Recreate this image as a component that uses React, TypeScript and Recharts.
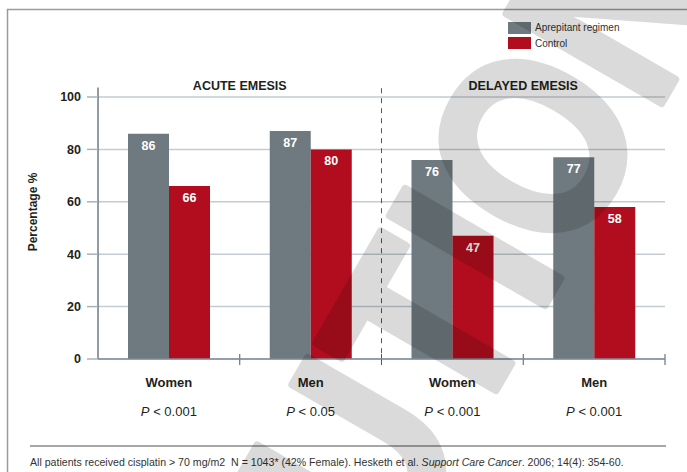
import React from 'react';
import {
  BarChart,
  Bar,
  XAxis,
  YAxis,
  CartesianGrid,
  Legend,
  LabelList,
  ReferenceLine,
} from 'recharts';

// categories and series values
const CATEGORY_IDS = ['acute-women', 'acute-men', 'delayed-women', 'delayed-men'];
const GENDERS = ['Women', 'Men', 'Women', 'Men'];
const P_VALUES = ['0.001', '0.05', '0.001', '0.001'];
const APREPITANT = [86, 87, 76, 77];
const CONTROL = [66, 80, 47, 58];
const Y_TICKS = [0, 20, 40, 60, 80, 100];
const GROUP_TITLES = ['ACUTE EMESIS', 'DELAYED EMESIS'];
const GROUP_SPLIT_AFTER = ['acute-women', 'delayed-women']; // titles sit over the end of these bands

const FONT = '"Liberation Sans", Arial, Helvetica, sans-serif';
const GREY = '#6f7a80';
const RED = '#b20d1e';
const TEXT = '#231f20';
const AXIS = '#4a5a67';

const data = CATEGORY_IDS.map((id, i) => ({
  id,
  gender: GENDERS[i],
  p: P_VALUES[i],
  aprepitant: APREPITANT[i],
  control: CONTROL[i],
}));

const legendItems = [
  { label: 'Aprepitant regimen', color: GREY },
  { label: 'Control', color: RED },
];

// x tick: gender label plus p value beneath it
const CategoryTick = ({ x, y, payload }: any) => {
  const row = data.find((d) => d.id === payload.value) || data[payload.index];
  return (
    <g>
      <text x={x} y={y + 28} textAnchor="middle" fontSize={13} fontWeight="bold" fill={TEXT} fontFamily={FONT}>
        {row.gender}
      </text>
      <text x={x} y={y + 57} textAnchor="middle" fontSize={13} fill={TEXT} fontFamily={FONT}>
        <tspan fontStyle="italic">P</tspan>
        {' < ' + row.p}
      </text>
    </g>
  );
};

const LegendBox = () => (
  <div style={{ fontFamily: FONT, fontSize: 10, color: '#333' }}>
    {legendItems.map((item) => (
      <div key={item.label} style={{ display: 'flex', alignItems: 'center', height: 15.5 }}>
        <span style={{ display: 'inline-block', width: 23, height: 12, background: item.color, marginRight: 4 }} />
        <span>{item.label}</span>
      </div>
    ))}
  </div>
);

export default function App() {
  return (
    <div style={{ position: 'absolute', left: 0, top: 0, width: 687, height: 472, background: '#fff', fontFamily: FONT }}>
      <BarChart
        width={687}
        height={472}
        data={data}
        margin={{ top: 97, right: 22, left: 8, bottom: 0 }}
        barCategoryGap={30}
        barGap={0}
      >
        <CartesianGrid horizontal vertical={false} stroke="#c3ccd3" strokeWidth={1.5} />
        <XAxis
          dataKey="id"
          height={113}
          interval={0}
          tickLine={false}
          tickSize={0}
          tickMargin={0}
          axisLine={{ stroke: '#7e8c97', strokeWidth: 1.5 }}
          tick={<CategoryTick />}
        />
        <YAxis
          domain={[0, 100]}
          ticks={Y_TICKS}
          width={90}
          axisLine={false}
          tickLine={{ stroke: '#a7b3bc', strokeWidth: 1.5 }}
          tickSize={11}
          tickMargin={6}
          tick={{ fontSize: 12.5, fontWeight: 'bold', fill: TEXT, fontFamily: FONT }}
          label={{
            value: 'Percentage %',
            angle: -90,
            position: 'insideLeft',
            offset: 25,
            dy: -16,
            style: { textAnchor: 'middle', fontSize: 12, fontWeight: 'bold', fill: TEXT, fontFamily: FONT },
          }}
        />
        <Legend
          layout="vertical"
          align="center"
          verticalAlign="middle"
          content={<LegendBox />}
          wrapperStyle={{ left: 508, top: 20, width: 'auto', height: 'auto' }}
        />
        <Bar dataKey="aprepitant" name="Aprepitant regimen" fill={GREY} isAnimationActive={false}>
          <LabelList dataKey="aprepitant" position="insideTop" offset={7} fill="#fff" fontSize={12.5} fontWeight="bold" fontFamily={FONT} />
        </Bar>
        <Bar dataKey="control" name="Control" fill={RED} isAnimationActive={false}>
          <LabelList dataKey="control" position="insideTop" offset={7} fill="#fff" fontSize={12.5} fontWeight="bold" fontFamily={FONT} />
        </Bar>
        {/* y axis line, reaching a little above 100 */}
        <ReferenceLine
          ifOverflow="visible"
          position="start"
          segment={[{ x: CATEGORY_IDS[0], y: 0 }, { x: CATEGORY_IDS[0], y: 103.6 }]}
          stroke={AXIS}
          strokeWidth={1.2}
        />
        {/* dashed divider between acute and delayed */}
        <ReferenceLine
          ifOverflow="visible"
          position="end"
          segment={[{ x: CATEGORY_IDS[1], y: -1.6 }, { x: CATEGORY_IDS[1], y: 103.6 }]}
          stroke={AXIS}
          strokeWidth={1}
          strokeDasharray="5 5"
        />
        {/* small ticks at the end of each band */}
        {CATEGORY_IDS.map((id) => (
          <ReferenceLine
            key={`edge-${id}`}
            ifOverflow="visible"
            position="end"
            segment={[{ x: id, y: 1.9 }, { x: id, y: -2.3 }]}
            stroke={AXIS}
            strokeWidth={1}
          />
        ))}
        {GROUP_SPLIT_AFTER.map((id, i) => (
          <ReferenceLine
            key={`group-${id}`}
            x={id}
            position="end"
            stroke="none"
            label={{
              value: GROUP_TITLES[i],
              position: 'top',
              offset: 7,
              fontSize: 12.5,
              fontWeight: 'bold',
              fill: TEXT,
              fontFamily: FONT,
            }}
          />
        ))}
      </BarChart>
      <svg
        width={687}
        height={472}
        style={{ position: 'absolute', left: 0, top: 0, pointerEvents: 'none' }}
      >
        <polyline points="7.5,472 7.5,9.5 687,9.5" fill="none" stroke="#9b9b9b" strokeWidth={1.5} />
        <line x1={30} y1={446} x2={666} y2={446} stroke="#8a8a8a" strokeWidth={1.5} />
        <text x={30} y={466} fontSize={10.6} fill="#333" fontFamily={FONT}>
          All patients received cisplatin {'>'} 70 mg/m2{'\u00a0\u00a0'}N = 1043* (42% Female). Hesketh et al.{' '}
          <tspan fontStyle="italic">Support Care Cancer</tspan>. 2006; 14(4): 354-60.
        </text>
        {/* watermark */}
        <g opacity={0.14} transform="translate(482 414) rotate(-60)">
          <text
            transform="scale(0.85 1)"
            x={0}
            y={0}
            textAnchor="middle"
            fontSize={260}
            fontWeight="bold"
            fontFamily={FONT}
            fill="#000"
            stroke="#000"
            strokeWidth={8}
            strokeLinejoin="round"
          >
            CAUTION
          </text>
        </g>
      </svg>
    </div>
  );
}
